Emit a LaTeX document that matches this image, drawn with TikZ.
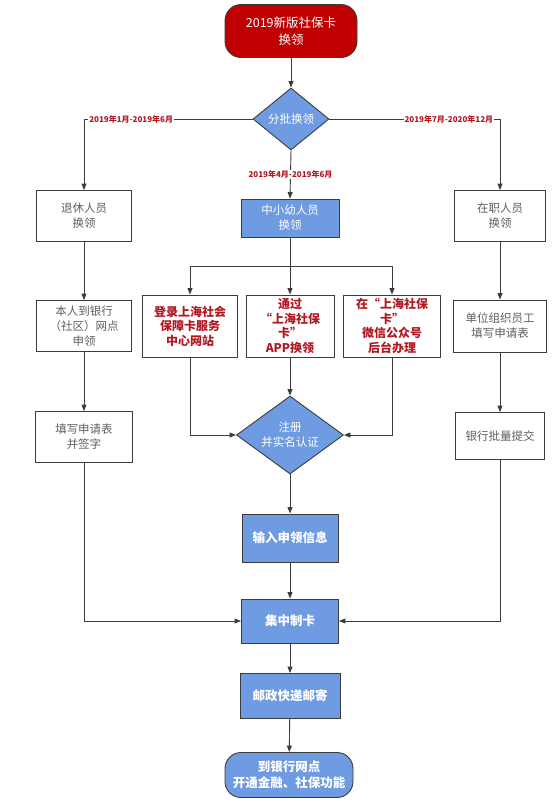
\documentclass[tikz,border=0pt]{standalone}
\usepackage{fontspec}
\usepackage{tikz}
\usetikzlibrary{arrows.meta,shapes.geometric,calc}
\newfontfamily\cjk{Noto Sans CJK SC}
\definecolor{boxblue}{RGB}{110,155,225}
\definecolor{cardred}{RGB}{192,0,0}
\definecolor{textred}{RGB}{178,24,34}
\definecolor{linegray}{RGB}{60,60,60}
\definecolor{textgray}{RGB}{95,95,95}

\begin{document}
\begin{tikzpicture}[x=1pt,y=-1pt,
		line/.style={draw=linegray, line width=0.9pt},
		arr/.style={line, -{Triangle[length=6.5pt,width=5pt]}},
		greybox/.style={draw=linegray, line width=0.9pt, fill=white, text=textgray, align=center, inner sep=1.5pt, font=\cjk\fontsize{11.5}{15}\selectfont},
		redbox/.style={greybox, text=textred, font=\cjk\bfseries\fontsize{12}{14.5}\selectfont},
		bluebox/.style={greybox, fill=boxblue, text=white},
		boldblue/.style={bluebox, font=\cjk\bfseries\fontsize{12.5}{16}\selectfont},
		decide/.style={diamond, aspect=1.3, draw=linegray, line width=0.9pt, fill=boxblue, text=white, align=center, inner sep=0pt, font=\cjk\fontsize{11.5}{15}\selectfont},
		term/.style={rounded corners=16pt, draw=linegray, line width=0.9pt, text=white, align=center, inner sep=1.5pt},
		datelbl/.style={fill=white, text=textred, inner sep=1pt, font=\cjk\bfseries\fontsize{8}{9}\selectfont}]
		\useasboundingbox (0,0) rectangle (555,804);
		\node[term, fill=cardred, minimum width=132pt, minimum height=53pt, font=\cjk\fontsize{12.5}{17}\selectfont] (start) at (291,31) {2019新版社保卡\\换领};
		\node[decide, minimum width=76pt, minimum height=62pt] (batchsplit) at (291,119) {分批换领};
		\node[greybox, minimum width=95pt, minimum height=51pt] (retire) at (84,216) {退休人员\\换领};
		\node[bluebox, minimum width=98pt, minimum height=38pt] (youth) at (290,218) {中小幼人员\\换领};
		\node[greybox, minimum width=91pt, minimum height=51pt] (staff) at (500,216) {在职人员\\换领};
		\coordinate (fork) at (290,266);
		\node[redbox, minimum width=95pt, minimum height=62pt] (website) at (190,326) {登录上海社会\\保障卡服务\\中心网站};
		\node[redbox, minimum width=88pt, minimum height=62pt] (appway) at (290,326) {通过\\“上海社保\\卡”\\APP换领};
		\node[redbox, minimum width=97pt, minimum height=62pt] (wechat) at (392,326) {在“上海社保\\卡”\\微信公众号\\后台办理};
		\node[greybox, minimum width=95pt, minimum height=51pt] (bankapply) at (84,326) {本人到银行\\（社区）网点\\申领};
		\node[greybox, minimum width=93pt, minimum height=52pt] (unitform) at (500,326) {单位组织员工\\填写申请表};
		\node[decide, aspect=1.4, minimum width=107pt, minimum height=78pt] (register) at (290,435) {注册\\并实名认证};
		\node[greybox, minimum width=97pt, minimum height=51pt] (signform) at (84,437) {填写申请表\\并签字};
		\node[greybox, minimum width=89pt, minimum height=47pt] (banksubmit) at (500,436) {银行批量提交};
		\node[boldblue, minimum width=96pt, minimum height=48pt] (inputinfo) at (290,538) {输入申领信息};
		\node[boldblue, minimum width=97pt, minimum height=44pt] (makecard) at (290,621) {集中制卡};
		\node[boldblue, minimum width=100pt, minimum height=45pt] (mail) at (290,696) {邮政快递邮寄};
		\node[term, fill=boxblue, minimum width=128pt, minimum height=45pt, font=\cjk\bfseries\fontsize{12.5}{16}\selectfont] (finish) at (289,775) {到银行网点\\开通金融、社保功能};
		\draw[arr] (start) -- (batchsplit);
		\draw[arr] (batchsplit.west) -| node[datelbl, pos=0.36] {2019年1月-2019年6月} (retire.north);
		\draw[arr] (batchsplit.east) -| node[datelbl, pos=0.35] {2019年7月-2020年12月} (staff.north);
		\draw[arr] (batchsplit.south) -- node[datelbl] {2019年4月-2019年6月} (youth.north);
		\draw[arr] (youth.south) -- (appway.north);
		\draw[arr] (fork) -| (website.north);
		\draw[arr] (fork) -| (wechat.north);
		\draw[arr] (retire) -- (bankapply);
		\draw[arr] (bankapply) -- (signform);
		\draw[arr] (staff) -- (unitform);
		\draw[arr] (unitform) -- (banksubmit);
		\draw[arr] (website.south) |- (register.west);
		\draw[arr] (wechat.south) |- (register.east);
		\draw[arr] (appway) -- (register);
		\draw[arr] (register) -- (inputinfo);
		\draw[arr] (inputinfo) -- (makecard);
		\draw[arr] (signform.south) |- (makecard.west);
		\draw[arr] (banksubmit.south) |- (makecard.east);
		\draw[arr] (makecard) -- (mail);
		\draw[arr] (mail) -- (finish);
	\end{tikzpicture}
\end{document}
